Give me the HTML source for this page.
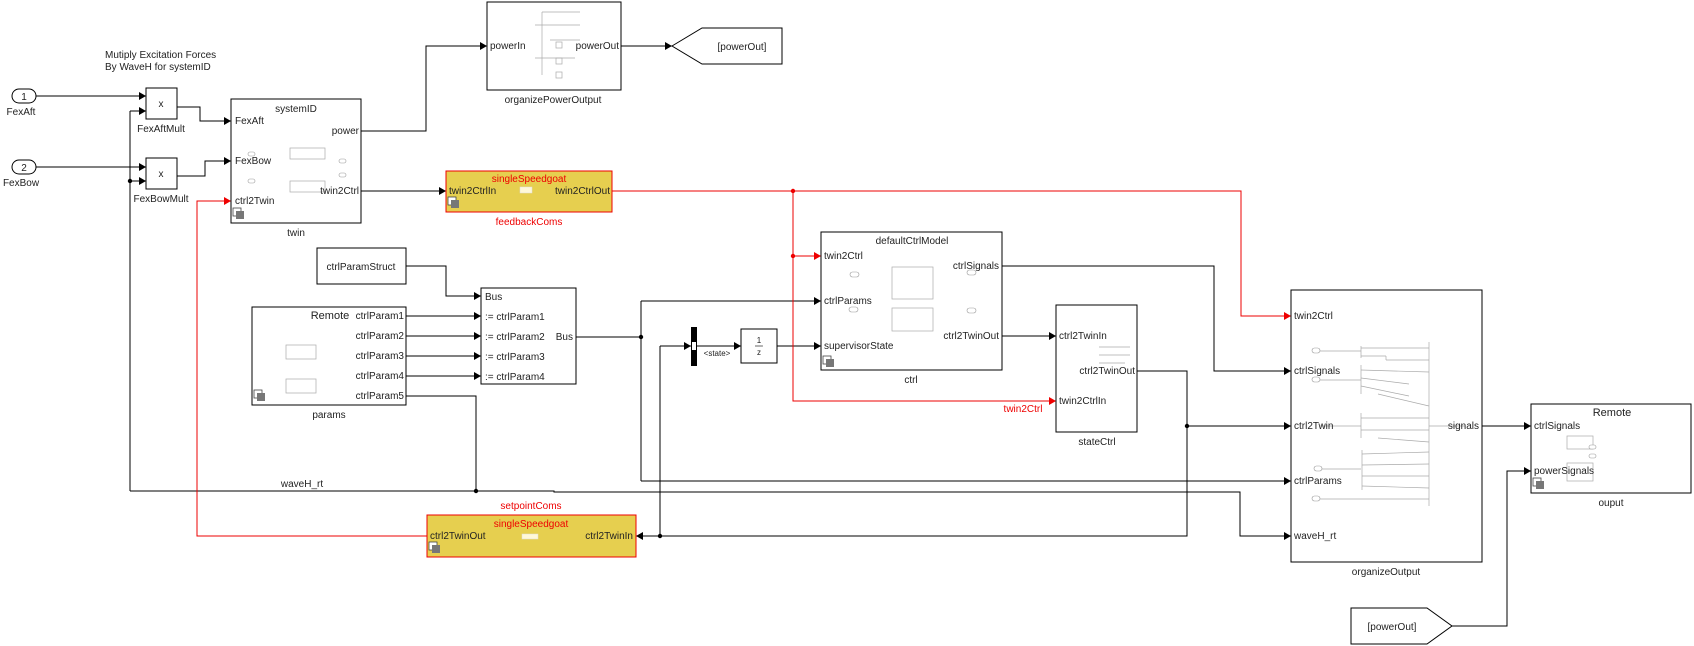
<!DOCTYPE html>
<html><head><meta charset="utf-8"><style>
html,body{margin:0;padding:0;background:#fff;}
svg{display:block;}
text{font-family:"Liberation Sans",sans-serif;font-size:10px;fill:#222;}
.r{fill:#e00;}
.c{text-anchor:middle;}
.e{text-anchor:end;}
</style></head><body>
<svg width="1694" height="646" viewBox="0 0 1694 646" xmlns="http://www.w3.org/2000/svg">
<defs>
<g id="ico"><rect x="0" y="0" width="8" height="8" fill="#fff" stroke="#444" stroke-width="0.8"/><rect x="3" y="3" width="8" height="8" fill="#777"/></g>
</defs>
<g fill="none" stroke="#000" stroke-width="1">
<polyline points="36,96 146,96"/>
<polyline points="36,167 146,167"/>
<polyline points="130,111 146,111"/>
<polyline points="130,111 130,491"/>
<polyline points="130,181 146,181"/>
<polyline points="177,107 200,107 200,121 231,121"/>
<polyline points="177,176 205,176 205,161 231,161"/>
<polyline points="361,131 426,131 426,46 487,46"/>
<polyline points="621,46 672,46"/>
<polyline points="361,191 446,191"/>
<polyline points="406,266 446,266 446,296 481,296"/>
<polyline points="406,316 481,316"/>
<polyline points="406,336 481,336"/>
<polyline points="406,356 481,356"/>
<polyline points="406,376 481,376"/>
<polyline points="406,396 476,396 476,491"/>
<polyline points="130,491 554,491 554,492 1240,492 1240,536 1291,536"/>
<polyline points="576,337 641,337"/>
<polyline points="641,301 641,481"/>
<polyline points="641,301 821,301"/>
<polyline points="641,481 1291,481"/>
<polyline points="697,346 741,346"/>
<polyline points="777,346 821,346"/>
<polyline points="660,346 691,346"/>
<polyline points="660,346 660,536"/>
<polyline points="1002,266 1214,266 1214,371 1291,371"/>
<polyline points="1002,336 1056,336"/>
<polyline points="1137,371 1187,371 1187,536 636,536"/>
<polyline points="1187,426 1291,426"/>
<polyline points="1482,426 1531,426"/>
<polyline points="1452,626 1507,626 1507,471 1531,471"/>
</g>
<g fill="none" stroke="#e00" stroke-width="1">
<polyline points="612,191 1241,191 1241,316 1291,316"/>
<polyline points="793,191 793,401 1056,401"/>
<polyline points="793,256 821,256"/>
<polyline points="427,536 197,536 197,201 231,201"/>
</g>
<!-- arrows -->
<g fill="#000">
<polygon points="139,92 146,96 139,100"/><polygon points="139,107 146,111 139,115"/>
<polygon points="139,163 146,167 139,171"/><polygon points="139,177 146,181 139,185"/>
<polygon points="224,117 231,121 224,125"/><polygon points="224,157 231,161 224,165"/>
<polygon points="480,42 487,46 480,50"/><polygon points="665,42 672,46 665,50"/>
<polygon points="439,187 446,191 439,195"/>
<polygon points="474,292 481,296 474,300"/><polygon points="474,312 481,316 474,320"/>
<polygon points="474,332 481,336 474,340"/><polygon points="474,352 481,356 474,360"/>
<polygon points="474,372 481,376 474,380"/>
<polygon points="814,297 821,301 814,305"/><polygon points="814,342 821,346 814,350"/>
<polygon points="684,342 691,346 684,350"/><polygon points="734,342 741,346 734,350"/>
<polygon points="1049,332 1056,336 1049,340"/>
<polygon points="1284,367 1291,371 1284,375"/><polygon points="1284,422 1291,426 1284,430"/>
<polygon points="1284,477 1291,481 1284,485"/><polygon points="1284,532 1291,536 1284,540"/>
<polygon points="1524,422 1531,426 1524,430"/><polygon points="1524,467 1531,471 1524,475"/>
<polygon points="643,532 636,536 643,540"/>
<circle cx="130" cy="181" r="2.2"/><circle cx="476" cy="491" r="2.2"/>
<circle cx="641" cy="337" r="2.2"/><circle cx="660" cy="536" r="2.2"/>
<circle cx="1187" cy="426" r="2.2"/>
</g>
<g fill="#e00">
<polygon points="224,197 231,201 224,205"/><polygon points="814,252 821,256 814,260"/>
<polygon points="1049,397 1056,401 1049,405"/><polygon points="1284,312 1291,316 1284,320"/>
<circle cx="793" cy="191" r="2.2"/><circle cx="793" cy="256" r="2.2"/>
</g>
<!-- blocks -->
<g fill="#fff" stroke="#000" stroke-width="1">
<rect x="12" y="89" width="24" height="14" rx="7"/>
<rect x="12" y="160" width="24" height="14" rx="7"/>
<rect x="146" y="88" width="31" height="31"/>
<rect x="146" y="158" width="31" height="31"/>
<rect x="231" y="99" width="130" height="124"/>
<rect x="487" y="2" width="134" height="88"/>
<polygon points="672,46 702,28 782,28 782,64 702,64"/>
<rect x="317" y="248" width="89" height="36"/>
<rect x="481" y="288" width="95" height="96"/>
<rect x="252" y="307" width="154" height="98"/>
<rect x="741" y="329" width="36" height="34"/>
<rect x="821" y="232" width="181" height="138"/>
<rect x="1056" y="305" width="81" height="127"/>
<rect x="1291" y="290" width="191" height="272"/>
<rect x="1531" y="404" width="160" height="89"/>
<polygon points="1351,608 1427,608 1452,626 1427,644 1351,644"/>
</g>
<rect x="691" y="327" width="6" height="39" fill="#000"/>
<rect x="692" y="342" width="4" height="8" fill="#fff"/>
<rect x="446" y="171" width="166" height="41" fill="#e6cf4f" stroke="#e00" stroke-width="1"/>
<rect x="427" y="515" width="209" height="42" fill="#e6cf4f" stroke="#e00" stroke-width="1"/>
<rect x="520" y="187" width="12" height="6" fill="#fff8d8" stroke="#ddd" stroke-width="0.5"/>
<rect x="522" y="534" width="16" height="5" fill="#fff8d8" stroke="#ddd" stroke-width="0.5"/>
<!-- inner gray decorations -->
<g fill="none" stroke="#aaa" stroke-width="0.7">
<rect x="290" y="148" width="35" height="11"/><rect x="290" y="181" width="35" height="11"/>
<rect x="286" y="345" width="30" height="14"/><rect x="286" y="379" width="30" height="14"/>
<rect x="892" y="267" width="41" height="32"/><rect x="892" y="308" width="41" height="23"/>
<rect x="1567" y="436" width="26" height="13"/><rect x="1567" y="463" width="26" height="18"/>
<line x1="542" y1="12" x2="580" y2="12"/><line x1="542" y1="12" x2="542" y2="75"/>
<line x1="535" y1="25" x2="580" y2="25"/><line x1="550" y1="40" x2="580" y2="40"/>
<line x1="535" y1="58" x2="575" y2="58"/><rect x="556" y="42" width="6" height="6"/>
<rect x="556" y="58" width="6" height="6"/><rect x="556" y="72" width="6" height="6"/>
<line x1="1429" y1="342" x2="1429" y2="506"/>
<line x1="1361" y1="346" x2="1361" y2="358"/><line x1="1361" y1="365" x2="1361" y2="394"/>
<line x1="1361" y1="413" x2="1361" y2="438"/><line x1="1362" y1="450" x2="1362" y2="490"/>
<line x1="1320" y1="351" x2="1361" y2="351"/><line x1="1320" y1="380" x2="1361" y2="380"/>
<line x1="1320" y1="426" x2="1361" y2="426"/><line x1="1320" y1="469" x2="1361" y2="469"/>
<line x1="1320" y1="499" x2="1429" y2="499"/>
<line x1="1361" y1="348" x2="1429" y2="348"/><line x1="1361" y1="356" x2="1386" y2="356"/><line x1="1386" y1="356" x2="1386" y2="360"/><line x1="1386" y1="360" x2="1429" y2="360"/>
<line x1="1361" y1="370" x2="1429" y2="372"/><line x1="1361" y1="378" x2="1409" y2="384"/><line x1="1361" y1="386" x2="1409" y2="396"/><line x1="1378" y1="394" x2="1429" y2="406"/>
<line x1="1361" y1="418" x2="1429" y2="418"/><line x1="1361" y1="430" x2="1429" y2="430"/><line x1="1378" y1="438" x2="1429" y2="442"/>
<line x1="1362" y1="454" x2="1429" y2="452"/><line x1="1362" y1="465" x2="1429" y2="464"/><line x1="1362" y1="476" x2="1429" y2="476"/><line x1="1362" y1="486" x2="1429" y2="488"/>
<line x1="1429" y1="426" x2="1465" y2="426"/>
<line x1="1099" y1="347" x2="1130" y2="347"/><line x1="1099" y1="355" x2="1130" y2="355"/><line x1="1099" y1="363" x2="1125" y2="363"/>
</g>
<g fill="#fff" stroke="#999" stroke-width="0.6">
<rect x="1312" y="348" width="8" height="5" rx="2.5"/><rect x="1312" y="377" width="8" height="5" rx="2.5"/>
<rect x="1314" y="466" width="8" height="5" rx="2.5"/><rect x="1312" y="496" width="8" height="5" rx="2.5"/>
<rect x="850" y="272" width="9" height="5" rx="2.5"/><rect x="849" y="307" width="9" height="5" rx="2.5"/>
<rect x="967" y="270" width="9" height="5" rx="2.5"/><rect x="967" y="308" width="9" height="5" rx="2.5"/>
<rect x="248" y="152" width="7" height="4" rx="2"/><rect x="248" y="179" width="7" height="4" rx="2"/>
<rect x="339" y="159" width="7" height="4" rx="2"/><rect x="339" y="173" width="7" height="4" rx="2"/>
<rect x="1589" y="445" width="7" height="4" rx="2"/><rect x="1589" y="454" width="7" height="4" rx="2"/>
</g>
<use href="#ico" x="233" y="208"/><use href="#ico" x="448" y="197"/><use href="#ico" x="254" y="390"/>
<use href="#ico" x="823" y="356"/><use href="#ico" x="429" y="542"/><use href="#ico" x="1533" y="478"/>
<!-- text -->
<text x="105" y="58">Mutiply Excitation Forces</text>
<text x="105" y="70">By WaveH for systemID</text>
<text x="24" y="100" class="c">1</text><text x="24" y="171" class="c">2</text>
<text x="21" y="115" class="c">FexAft</text><text x="21" y="186" class="c">FexBow</text>
<text x="161" y="107" class="c">x</text><text x="161" y="177" class="c">x</text>
<text x="161" y="132" class="c">FexAftMult</text><text x="161" y="202" class="c">FexBowMult</text>
<text x="296" y="112" class="c">systemID</text>
<text x="235" y="124">FexAft</text><text x="235" y="164">FexBow</text><text x="235" y="204">ctrl2Twin</text>
<text x="359" y="134" class="e">power</text><text x="359" y="194" class="e">twin2Ctrl</text>
<text x="296" y="236" class="c">twin</text>
<text x="490" y="49">powerIn</text><text x="619" y="49" class="e">powerOut</text>
<text x="553" y="103" class="c">organizePowerOutput</text>
<text x="742" y="50" class="c">[powerOut]</text>
<text x="529" y="182" class="c r">singleSpeedgoat</text>
<text x="449" y="194">twin2CtrlIn</text><text x="610" y="194" class="e">twin2CtrlOut</text>
<text x="529" y="225" class="c r">feedbackComs</text>
<text x="361" y="270" class="c">ctrlParamStruct</text>
<text x="485" y="300">Bus</text>
<text x="485" y="320">:= ctrlParam1</text><text x="485" y="340">:= ctrlParam2</text>
<text x="485" y="360">:= ctrlParam3</text><text x="485" y="380">:= ctrlParam4</text>
<text x="573" y="340" class="e">Bus</text>
<text x="330" y="319" class="c" style="font-size:11px">Remote</text>
<text x="404" y="319" class="e">ctrlParam1</text><text x="404" y="339" class="e">ctrlParam2</text>
<text x="404" y="359" class="e">ctrlParam3</text><text x="404" y="379" class="e">ctrlParam4</text>
<text x="404" y="399" class="e">ctrlParam5</text>
<text x="329" y="418" class="c">params</text>
<text x="302" y="487" class="c">waveH_rt</text>
<text x="531" y="509" class="c r">setpointComs</text>
<text x="531" y="527" class="c r">singleSpeedgoat</text>
<text x="430" y="539">ctrl2TwinOut</text><text x="633" y="539" class="e">ctrl2TwinIn</text>
<text x="717" y="356" class="c" style="font-size:8px">&lt;state&gt;</text>
<text x="759" y="343" class="c" style="font-size:8px">1</text>
<line x1="755" y1="346" x2="763" y2="346" stroke="#000" stroke-width="0.6"/>
<text x="759" y="355" class="c" style="font-size:8px">z</text>
<text x="912" y="244" class="c">defaultCtrlModel</text>
<text x="824" y="259">twin2Ctrl</text><text x="824" y="304">ctrlParams</text><text x="824" y="349">supervisorState</text>
<text x="999" y="269" class="e">ctrlSignals</text><text x="999" y="339" class="e">ctrl2TwinOut</text>
<text x="911" y="383" class="c">ctrl</text>
<text x="1059" y="339">ctrl2TwinIn</text><text x="1059" y="404">twin2CtrlIn</text>
<text x="1135" y="374" class="e">ctrl2TwinOut</text>
<text x="1097" y="445" class="c">stateCtrl</text>
<text x="1023" y="412" class="c r">twin2Ctrl</text>
<text x="1294" y="319">twin2Ctrl</text><text x="1294" y="374">ctrlSignals</text>
<text x="1294" y="429">ctrl2Twin</text><text x="1294" y="484">ctrlParams</text><text x="1294" y="539">waveH_rt</text>
<text x="1479" y="429" class="e">signals</text>
<text x="1386" y="575" class="c">organizeOutput</text>
<text x="1612" y="416" class="c" style="font-size:11px">Remote</text>
<text x="1534" y="429">ctrlSignals</text><text x="1534" y="474">powerSignals</text>
<text x="1611" y="506" class="c">ouput</text>
<text x="1392" y="630" class="c">[powerOut]</text>
</svg>
</body></html>
